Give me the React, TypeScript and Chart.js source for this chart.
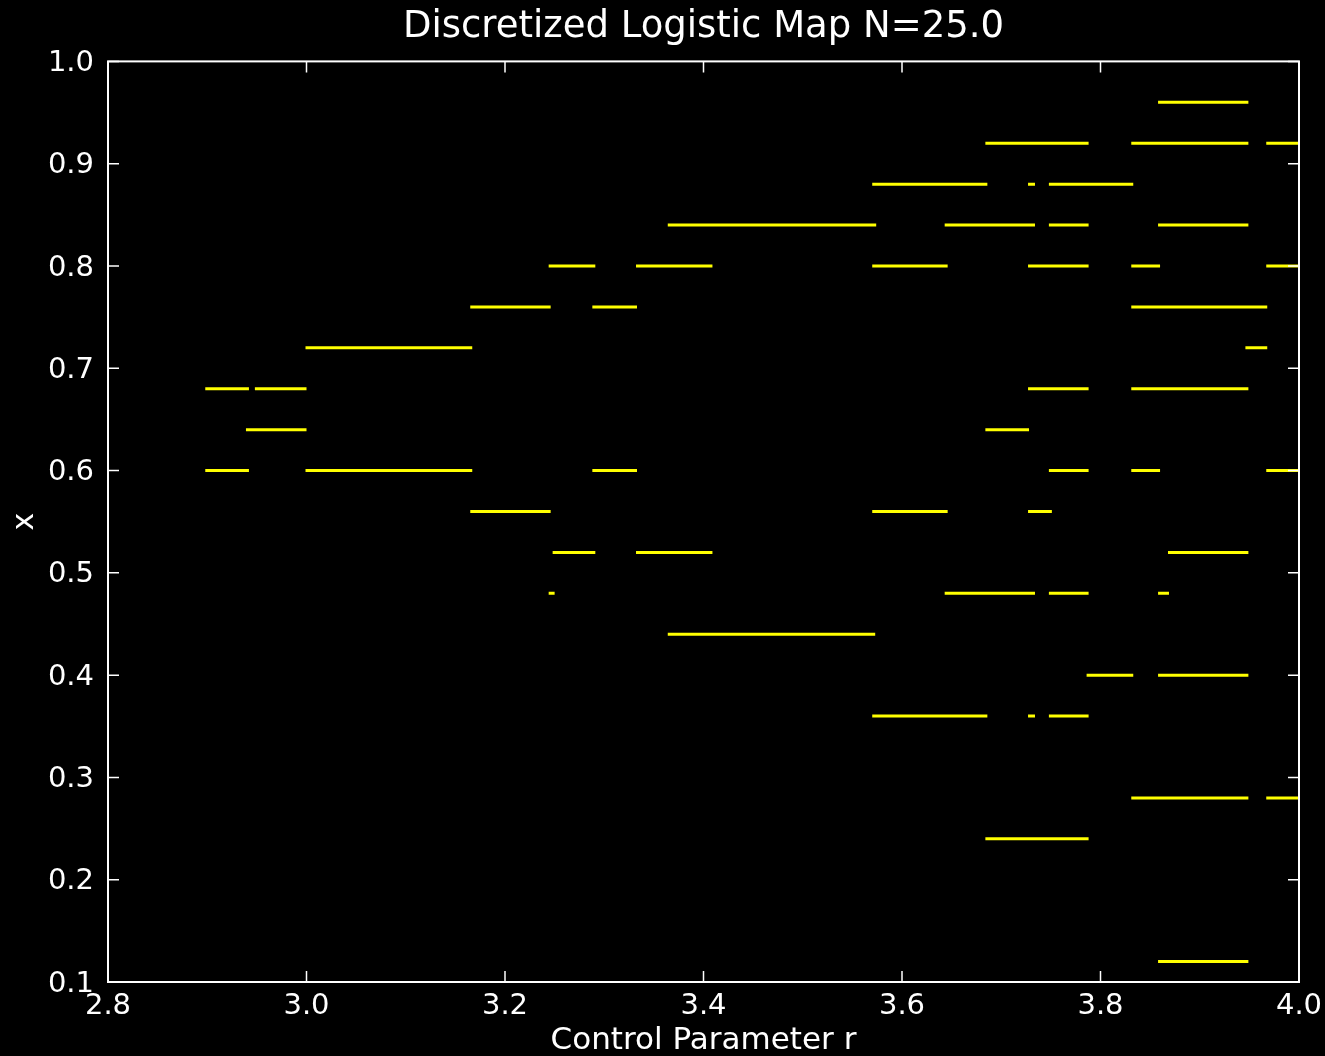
import { useEffect, useRef } from "react";
import { Chart, registerables } from "chart.js";

Chart.register(...registerables);

const chartTitle = "Discretized Logistic Map N=25.0";
const xAxisLabel = "Control Parameter r";
const yAxisLabel = "x";

// x levels (multiples of 1/25) that have plateaus
const levels = [0.96, 0.92, 0.88, 0.84, 0.8, 0.76, 0.72, 0.68, 0.64, 0.6, 0.56, 0.52, 0.48, 0.44, 0.4, 0.36, 0.28, 0.24, 0.12];

// r where each plateau starts, per level
const segStarts = [
  [3.858],
  [3.684, 3.831, 3.967],
  [3.57, 3.727, 3.748],
  [3.364, 3.643, 3.748, 3.858],
  [3.244, 3.332, 3.57, 3.727, 3.831, 3.967],
  [3.165, 3.288, 3.831],
  [2.999, 3.946],
  [2.898, 2.948, 3.727, 3.831],
  [2.939, 3.684],
  [2.898, 2.999, 3.288, 3.748, 3.831, 3.967],
  [3.165, 3.57, 3.727],
  [3.248, 3.332, 3.868],
  [3.244, 3.643, 3.748, 3.858],
  [3.364],
  [3.786, 3.858],
  [3.57, 3.727, 3.748],
  [3.831, 3.967],
  [3.684],
  [3.858],
];

// r where each plateau ends, per level
const segEnds = [
  [3.949],
  [3.788, 3.949, 4.0],
  [3.686, 3.734, 3.833],
  [3.574, 3.734, 3.788, 3.949],
  [3.291, 3.409, 3.646, 3.788, 3.86, 4.0],
  [3.246, 3.333, 3.968],
  [3.167, 3.968],
  [2.942, 3.0, 3.788, 3.949],
  [3.0, 3.728],
  [2.942, 3.167, 3.333, 3.788, 3.86, 4.0],
  [3.246, 3.646, 3.751],
  [3.291, 3.409, 3.949],
  [3.25, 3.734, 3.788, 3.869],
  [3.573],
  [3.833, 3.949],
  [3.686, 3.734, 3.788],
  [3.949, 4.0],
  [3.788],
  [3.949],
];

const xTicks = [2.8, 3.0, 3.2, 3.4, 3.6, 3.8, 4.0];
const yTicks = [0.1, 0.2, 0.3, 0.4, 0.5, 0.6, 0.7, 0.8, 0.9, 1.0];

const FONT = "'DejaVu Sans', sans-serif";
const TEXT = "#ffffff";

export default function App() {
  const ref = useRef<HTMLCanvasElement>(null);

  useEffect(() => {
    document.body.style.margin = "0";
    document.body.style.background = "#000000";
    if (!ref.current) return;

    const datasets: any[] = [];
    levels.forEach((lv, i) => {
      segStarts[i].forEach((s, j) => {
        datasets.push({
          data: [
            { x: s, y: lv },
            { x: segEnds[i][j], y: lv },
          ],
          borderColor: "#ffff00",
          borderWidth: 3,
          borderCapStyle: "butt",
          pointRadius: 0,
          pointHoverRadius: 0,
          fill: false,
          tension: 0,
        });
      });
    });

    const bgPlugin = {
      id: "bg",
      beforeDraw(chart: any) {
        const ctx = chart.ctx;
        ctx.save();
        ctx.fillStyle = "#000000";
        ctx.fillRect(0, 0, chart.width, chart.height);
        ctx.restore();
      },
    };

    const framePlugin = {
      id: "frame",
      afterDatasetsDraw(chart: any) {
        const { ctx, chartArea } = chart;
        const xs = chart.scales.x;
        const ys = chart.scales.y;
        const tl = 11;
        ctx.save();
        ctx.strokeStyle = "#ffffff";
        ctx.lineWidth = 1.5;
        ctx.beginPath();
        xTicks.forEach((v) => {
          const px = xs.getPixelForValue(v);
          ctx.moveTo(px, chartArea.bottom);
          ctx.lineTo(px, chartArea.bottom - tl);
          ctx.moveTo(px, chartArea.top);
          ctx.lineTo(px, chartArea.top + tl);
        });
        yTicks.forEach((v) => {
          const py = ys.getPixelForValue(v);
          ctx.moveTo(chartArea.left, py);
          ctx.lineTo(chartArea.left + tl, py);
          ctx.moveTo(chartArea.right, py);
          ctx.lineTo(chartArea.right - tl, py);
        });
        ctx.stroke();
        ctx.lineWidth = 2;
        ctx.strokeRect(
          chartArea.left,
          chartArea.top,
          chartArea.right - chartArea.left,
          chartArea.bottom - chartArea.top
        );
        ctx.restore();
      },
    };

    const chart = new Chart(ref.current, {
      type: "line",
      data: { datasets },
      options: {
        animation: false,
        responsive: false,
        maintainAspectRatio: false,
        devicePixelRatio: 1,
        layout: { padding: { left: 0, right: 26, top: 0, bottom: 0 } },
        plugins: {
          legend: { display: false },
          tooltip: { enabled: false },
          title: {
            display: true,
            fullSize: false,
            text: chartTitle,
            color: TEXT,
            font: { family: FONT, size: 37, weight: "normal", lineHeight: 1.2 },
            padding: { top: 5, bottom: 12 },
          },
        },
        scales: {
          x: {
            type: "linear",
            min: 2.8,
            max: 4.0,
            afterFit: (s: any) => {
              s.height = 74;
              s.paddingLeft = 0;
              s.paddingRight = 0;
            },
            grid: { display: false },
            border: { display: false },
            ticks: {
              stepSize: 0.2,
              padding: 2,
              color: TEXT,
              font: { family: FONT, size: 29, lineHeight: 1 },
              maxRotation: 0,
              autoSkip: false,
              callback: (v: any) => Number(v).toFixed(1),
            },
            title: {
              display: true,
              text: xAxisLabel,
              color: TEXT,
              font: { family: FONT, size: 31, lineHeight: 1 },
              padding: { top: 0, bottom: 0 },
            },
          },
          y: {
            type: "linear",
            min: 0.1,
            max: 1.0,
            afterFit: (s: any) => {
              s.width = 108;
              s.paddingTop = 0;
              s.paddingBottom = 0;
            },
            grid: { display: false },
            border: { display: false },
            ticks: {
              stepSize: 0.1,
              padding: 6,
              labelOffset: 2,
              color: TEXT,
              font: { family: FONT, size: 29 },
              autoSkip: false,
              callback: (v: any) => Number(v).toFixed(1),
            },
            title: {
              display: true,
              text: yAxisLabel,
              color: TEXT,
              font: { family: FONT, size: 30, lineHeight: 1 },
              padding: { top: 10, bottom: 0 },
            },
          },
        },
      } as any,
      plugins: [bgPlugin, framePlugin],
    });

    return () => chart.destroy();
  }, []);

  return (
    <canvas
      ref={ref}
      width={1325}
      height={1056}
      style={{ display: "block", width: "1325px", height: "1056px" }}
    />
  );
}
